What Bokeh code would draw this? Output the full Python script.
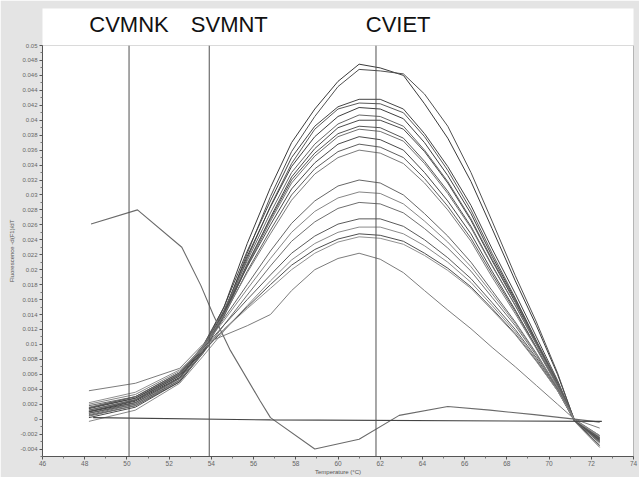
from bokeh.plotting import figure
from bokeh.models import FixedTicker, LinearAxis, Range1d, Span
from bokeh.embed import file_html
from bokeh.resources import INLINE

# ---------------- data ----------------
temps = [48.2, 50.4, 52.5, 53.6, 54.6, 55.7, 56.8, 57.8, 58.9, 60.0, 61.0,
         62.0, 63.1, 64.1, 65.2, 66.3, 67.3, 68.4, 69.4, 70.4, 71.2, 72.4]

a1 = [0.0010, 0.0022, 0.0055, 0.0095, 0.0150, 0.0235, 0.0310, 0.0370, 0.0415, 0.0452, 0.0475,
      0.0470, 0.0460, 0.0422, 0.0376, 0.0318, 0.0255, 0.0185, 0.0125, 0.0060, -0.0001, -0.0030]
a2 = [0.0008, 0.0020, 0.0052, 0.0090, 0.0142, 0.0222, 0.0298, 0.0358, 0.0405, 0.0445, 0.0468,
      0.0466, 0.0462, 0.0435, 0.0392, 0.0330, 0.0265, 0.0192, 0.0130, 0.0062, -0.0002, -0.0035]
m1 = [0.0015, 0.0028, 0.0060, 0.0098, 0.0150, 0.0225, 0.0292, 0.0350, 0.0392, 0.0418, 0.0428,
      0.0428, 0.0415, 0.0382, 0.0338, 0.0286, 0.0228, 0.0168, 0.0110, 0.0052, -0.0001, -0.0025]
m2 = [0.0005, 0.0018, 0.0050, 0.0090, 0.0140, 0.0215, 0.0285, 0.0342, 0.0388, 0.0415, 0.0423,
      0.0422, 0.0410, 0.0378, 0.0333, 0.0280, 0.0222, 0.0162, 0.0105, 0.0050, -0.0002, -0.0032]
m3 = [0.0010, 0.0024, 0.0056, 0.0094, 0.0145, 0.0218, 0.0284, 0.0338, 0.0378, 0.0405, 0.0417,
      0.0415, 0.0402, 0.0370, 0.0326, 0.0275, 0.0218, 0.0160, 0.0104, 0.0049, -0.0002, -0.0028]
m4 = [0.0018, 0.0030, 0.0062, 0.0098, 0.0146, 0.0212, 0.0276, 0.0330, 0.0368, 0.0395, 0.0407,
      0.0405, 0.0392, 0.0360, 0.0318, 0.0268, 0.0214, 0.0158, 0.0104, 0.0050, 0.0000, -0.0022]
m5 = [0.0002, 0.0016, 0.0050, 0.0088, 0.0138, 0.0206, 0.0270, 0.0324, 0.0362, 0.0390, 0.0400,
      0.0400, 0.0388, 0.0358, 0.0316, 0.0266, 0.0212, 0.0156, 0.0102, 0.0048, -0.0003, -0.0036]
m6 = [0.0012, 0.0026, 0.0058, 0.0095, 0.0142, 0.0208, 0.0268, 0.0320, 0.0356, 0.0382, 0.0392,
      0.0390, 0.0376, 0.0345, 0.0305, 0.0258, 0.0206, 0.0152, 0.0100, 0.0047, -0.0002, -0.0027]
m7 = [0.0006, 0.0020, 0.0054, 0.0092, 0.0140, 0.0205, 0.0265, 0.0316, 0.0352, 0.0378, 0.0388,
      0.0385, 0.0372, 0.0342, 0.0302, 0.0256, 0.0205, 0.0152, 0.0100, 0.0047, -0.0002, -0.0030]
m8 = [0.0014, 0.0028, 0.0060, 0.0096, 0.0142, 0.0204, 0.0260, 0.0308, 0.0343, 0.0368, 0.0378,
      0.0374, 0.0360, 0.0330, 0.0292, 0.0248, 0.0198, 0.0146, 0.0096, 0.0045, -0.0002, -0.0026]
m9 = [0.0008, 0.0022, 0.0055, 0.0092, 0.0138, 0.0198, 0.0253, 0.0300, 0.0335, 0.0358, 0.0368,
      0.0364, 0.0350, 0.0322, 0.0285, 0.0242, 0.0194, 0.0144, 0.0095, 0.0045, -0.0002, -0.0029]
m10 = [0.0016, 0.0030, 0.0062, 0.0097, 0.0140, 0.0196, 0.0248, 0.0293, 0.0328, 0.0350, 0.0360,
       0.0356, 0.0342, 0.0316, 0.0280, 0.0238, 0.0190, 0.0141, 0.0094, 0.0044, -0.0001, -0.0024]
l1 = [0.0012, 0.0026, 0.0060, 0.0094, 0.0135, 0.0180, 0.0225, 0.0262, 0.0292, 0.0312, 0.0320,
      0.0316, 0.0300, 0.0275, 0.0245, 0.0210, 0.0172, 0.0130, 0.0088, 0.0042, -0.0002, -0.0026]
l2 = [0.0020, 0.0033, 0.0064, 0.0096, 0.0132, 0.0174, 0.0215, 0.0250, 0.0278, 0.0296, 0.0304,
      0.0302, 0.0288, 0.0265, 0.0237, 0.0204, 0.0168, 0.0128, 0.0087, 0.0042, -0.0001, -0.0022]
l3 = [0.0004, 0.0018, 0.0052, 0.0088, 0.0126, 0.0166, 0.0205, 0.0238, 0.0264, 0.0282, 0.0290,
      0.0288, 0.0276, 0.0255, 0.0229, 0.0198, 0.0163, 0.0125, 0.0085, 0.0041, -0.0002, -0.0031]
l4 = [0.0015, 0.0030, 0.0062, 0.0094, 0.0126, 0.0160, 0.0193, 0.0222, 0.0245, 0.0261, 0.0268,
      0.0268, 0.0258, 0.0240, 0.0216, 0.0188, 0.0156, 0.0120, 0.0082, 0.0040, -0.0002, -0.0025]
l5 = [-0.0003, 0.0012, 0.0048, 0.0084, 0.0118, 0.0152, 0.0185, 0.0213, 0.0235, 0.0250, 0.0257,
      0.0257, 0.0248, 0.0232, 0.0210, 0.0183, 0.0152, 0.0117, 0.0080, 0.0039, -0.0003, -0.0038]
l6 = [0.0010, 0.0025, 0.0058, 0.0090, 0.0120, 0.0150, 0.0180, 0.0206, 0.0227, 0.0241, 0.0248,
      0.0246, 0.0238, 0.0222, 0.0202, 0.0177, 0.0148, 0.0114, 0.0078, 0.0038, -0.0002, -0.0028]
l7 = [0.0022, 0.0036, 0.0066, 0.0094, 0.0120, 0.0148, 0.0175, 0.0200, 0.0222, 0.0237, 0.0244,
      0.0242, 0.0234, 0.0219, 0.0199, 0.0175, 0.0146, 0.0113, 0.0077, 0.0038, -0.0001, -0.0023]
l8 = [0.0038, 0.0048, 0.0068, 0.0100, 0.0112, 0.0125, 0.0140, 0.0172, 0.0200, 0.0215, 0.0222,
      0.0214, 0.0196, 0.0172, 0.0146, 0.0121, 0.0096, 0.0070, 0.0045, 0.0020, 0.0000, -0.0012]

melt_curves = [a1, a2, m1, m2, m3, m4, m5, m6, m7, m8, m9, m10, l1, l2, l3, l4, l5, l6, l7, l8]
melt_colors = ["#3a3a3a", "#505050", "#444444", "#5a5a5a", "#3e3e3e", "#666666", "#4a4a4a",
               "#555555", "#707070", "#484848", "#5e5e5e", "#7a7a7a", "#666666", "#858585",
               "#6e6e6e", "#5a5a5a", "#8a8a8a", "#4e4e4e", "#909090", "#7c7c7c"]

odd_temps = [48.3, 50.5, 52.6, 53.5, 54.1, 54.9, 56.3, 56.8, 58.9, 61.0, 62.9, 65.2, 67.2, 69.3, 71.2, 72.4]
odd_vals = [0.0261, 0.0280, 0.0230, 0.0179, 0.0139, 0.0092, 0.0025, 0.0002, -0.0040, -0.0027,
            0.0005, 0.0017, 0.0012, 0.0006, 0.0000, -0.0004]

base_temps = [48.4, 56.8, 72.5]
base_vals = [0.0002, -0.0001, -0.0003]

marker_temps = [50.1, 53.9, 61.8]
marker_names = ["CVMNK", "SVMNT", "CVIET"]

x_ticks = [46, 48, 50, 52, 54, 56, 58, 60, 62, 64, 66, 68, 70, 72, 74]
x_minor = [47, 49, 51, 53, 55, 57, 59, 61, 63, 65, 67, 69, 71, 73]
y_ticks = [-0.004, -0.002, 0.0, 0.002, 0.004, 0.006, 0.008, 0.01, 0.012, 0.014, 0.016, 0.018,
           0.02, 0.022, 0.024, 0.026, 0.028, 0.03, 0.032, 0.034, 0.036, 0.038, 0.04, 0.042,
           0.044, 0.046, 0.048, 0.05]
y_tick_labels = ["-0.004", "-0.002", "0", "0.002", "0.004", "0.006", "0.008", "0.01", "0.012",
                 "0.014", "0.016", "0.018", "0.02", "0.022", "0.024", "0.026", "0.028", "0.03",
                 "0.032", "0.034", "0.036", "0.038", "0.04", "0.042", "0.044", "0.046", "0.048",
                 "0.05"]
y_minor = [-0.005, -0.003, -0.001, 0.001, 0.003, 0.005, 0.007, 0.009, 0.011, 0.013, 0.015, 0.017,
           0.019, 0.021, 0.023, 0.025, 0.027, 0.029, 0.031, 0.033, 0.035, 0.037, 0.039, 0.041,
           0.043, 0.045, 0.047, 0.049]

# ---------------- figure ----------------
p = figure(width=639, height=477, x_range=Range1d(46, 74), y_range=Range1d(-0.005, 0.05),
           output_backend="svg", toolbar_location=None,
           min_border_left=42, min_border_right=6, min_border_top=45, min_border_bottom=10)
p.xgrid.visible = False
p.ygrid.visible = False
p.background_fill_color = "white"
p.border_fill_color = "#e4e4e4"
p.outline_line_color = "#b5b5b5"
p.outline_line_width = 1

FONT = "Liberation Sans"
for ax in (p.xaxis[0], p.yaxis[0]):
    ax.axis_line_color = "#555555"
    ax.major_tick_line_color = "#555555"
    ax.minor_tick_line_color = "#777777"
    ax.major_tick_in = 0
    ax.major_tick_out = 3
    ax.minor_tick_in = 0
    ax.minor_tick_out = 2
    ax.major_label_text_font = FONT
    ax.major_label_text_color = "#666666"
    ax.axis_label_text_font = FONT
    ax.axis_label_text_font_style = "normal"
    ax.axis_label_text_color = "#555555"
    ax.axis_label_text_font_size = "6px"

p.yaxis[0].axis_label_standoff = 2
p.yaxis[0].major_label_standoff = 2
p.xaxis[0].axis_label_standoff = 0
p.xaxis[0].major_label_standoff = 1
p.xaxis[0].ticker = FixedTicker(ticks=x_ticks, minor_ticks=x_minor)
p.xaxis[0].major_label_text_font_size = "6.5px"
p.xaxis[0].axis_label = "Temperature (°C)"
p.yaxis[0].ticker = FixedTicker(ticks=y_ticks, minor_ticks=y_minor)
p.yaxis[0].major_label_overrides = dict(zip(y_ticks, y_tick_labels))
p.yaxis[0].major_label_text_font_size = "6px"
p.yaxis[0].axis_label = "Fluorescence -d(F1)/dT"

# marker labels on an axis above the frame
label_pos = [50.1, 54.85, 62.85]
top = LinearAxis(ticker=FixedTicker(ticks=label_pos, minor_ticks=[]),
                 major_label_overrides=dict(zip(label_pos, marker_names)),
                 axis_line_color=None, major_tick_line_color=None, minor_tick_line_color=None,
                 major_label_text_font=FONT, major_label_text_font_size="22px",
                 major_label_text_color="#111111", major_label_standoff=3)
try:
    top.background_fill_color = "white"
except Exception:
    pass
p.add_layout(top, "above")

# curves
for vals, col in zip(melt_curves, melt_colors):
    p.line(temps, vals, line_color=col, line_width=1)
p.line(odd_temps, odd_vals, line_color="#6a6a6a", line_width=1.1)
p.line(base_temps, base_vals, line_color="#444444", line_width=1.1)

for t in marker_temps:
    p.add_layout(Span(location=t, dimension="height", line_color="#505050", line_width=1))

open("out.html", "w").write(file_html(p, INLINE))
